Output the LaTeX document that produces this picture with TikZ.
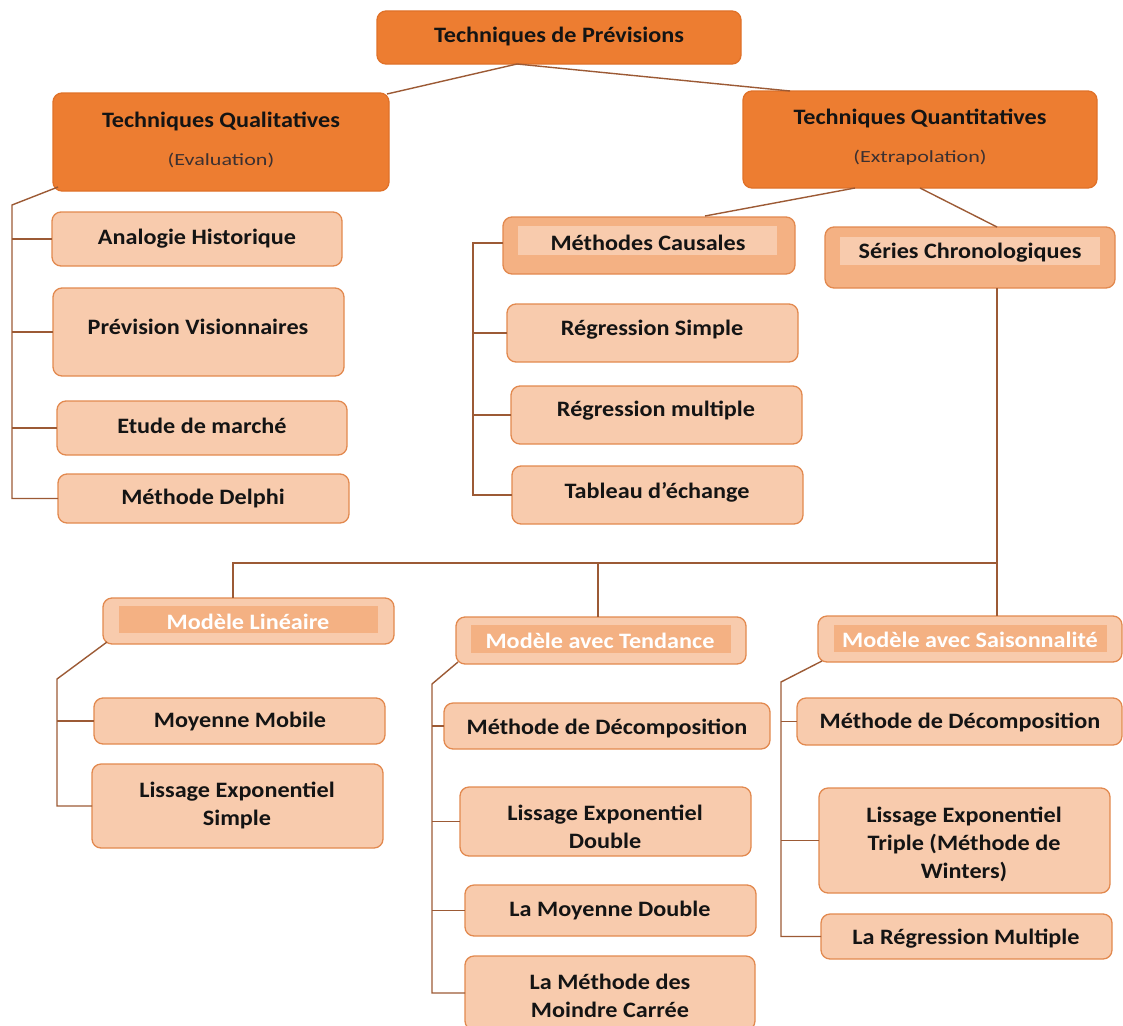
\documentclass[tikz,border=0pt]{standalone}
\usepackage{fontspec}
\setmainfont{Carlito}[FakeStretch=1.1]
\newfontfamily\notefont{Carlito}[FakeStretch=1.3]
\usetikzlibrary{calc}

\definecolor{deep}{HTML}{ED7D31}
\definecolor{deepedge}{HTML}{E07128}
\definecolor{midtone}{HTML}{F4B183}
\definecolor{pale}{HTML}{F8CBAD}
\definecolor{edge}{HTML}{E2894F}
\definecolor{wire}{HTML}{9C5A35}
\definecolor{ink}{HTML}{141414}
\definecolor{noteink}{HTML}{3C3030}

% rounded panel given by its corners (x1,y1) (x2,y2) in pixel units
\newcommand\panel[6]{%
  \node[#2, minimum width={(#5-#3)*1pt}, minimum height={(#6-#4)*1pt}]
    (#1) at ({(#3+#5)/2},{(#4+#6)/2}) {};}

\begin{document}
\begin{tikzpicture}[x=1pt, y=-1pt,
  card/.style={draw=edge, fill=pale, rounded corners=9pt, line width=1.3pt,
               inner sep=0pt, outer sep=0pt},
  topcard/.style={card, fill=deep, draw=deepedge},
  midcard/.style={card, fill=midtone, draw=edge},
  hdrcard/.style={card, fill=pale, draw=edge},
  band/.style={draw=none, rounded corners=0pt, inner sep=0pt, outer sep=0pt},
  txt/.style={font=\bfseries\fontsize{22}{28}\selectfont, text=ink, align=center,
              inner sep=0pt, yshift=-2pt},
  wtxt/.style={txt, text=white},
  note/.style={font=\notefont\fontsize{17}{20}\selectfont, text=noteink, inner sep=0pt,
               yshift=-1pt},
  conn/.style={draw=wire, line width=1.4pt}]

\useasboundingbox (0,0) rectangle (1123,1025);

% ---- level 0 and 1
\panel{root}{topcard}{377}{11}{741}{64}
\node[txt] (root-t) at (559,35) {Techniques de Prévisions};

\panel{qual}{topcard}{53}{93}{389}{191}
\node[txt] (qual-t) at (221,119) {Techniques Qualitatives};
\node[note] (qual-n) at (221,159) {(Evaluation)};

\panel{quant}{topcard}{743}{91}{1097}{188}
\node[txt] (quant-t) at (920,116) {Techniques Quantitatives};
\node[note] (quant-n) at (920,157) {(Extrapolation)};

% ---- qualitative methods
\panel{ana}{card}{52}{212}{342}{266}
\node[txt] (ana-t) at (197,237) {Analogie Historique};
\panel{vis}{card}{53}{288}{344}{376}
\node[txt] (vis-t) at (198,325) {Prévision Visionnaires};
\panel{etu}{card}{57}{401}{347}{455}
\node[txt] (etu-t) at (202,424) {Etude de marché};
\panel{del}{card}{58}{474}{349}{523}
\node[txt] (del-t) at (203,497) {Méthode Delphi};

% ---- causal methods
\panel{caus}{midcard}{503}{217}{795}{274}
\node[band, fill=pale, minimum width=259pt, minimum height=29pt] (caus-b) at (647.5,240.5) {};
\node[txt] (caus-t) at (648,241) {Méthodes Causales};
\panel{rs}{card}{507}{304}{798}{362}
\node[txt] (rs-t) at (652,328) {Régression Simple};
\panel{rm}{card}{511}{386}{802}{444}
\node[txt] (rm-t) at (656,409) {Régression multiple};
\panel{tab}{card}{512}{466}{803}{524}
\node[txt] (tab-t) at (657,490) {Tableau d’échange};

% ---- time series
\panel{ser}{midcard}{825}{227}{1115}{288}
\node[band, fill=pale, minimum width=260pt, minimum height=28pt] (ser-b) at (970,251) {};
\node[txt] (ser-t) at (970,251) {Séries Chronologiques};

% ---- model headers
\panel{lin}{hdrcard}{103}{598}{394}{644}
\node[band, fill=midtone, minimum width=259pt, minimum height=27pt] (lin-b) at (248.5,619.5) {};
\node[wtxt] (lin-t) at (248,620) {Modèle Linéaire};

\panel{ten}{hdrcard}{456}{617}{746}{664}
\node[band, fill=midtone, minimum width=260pt, minimum height=28pt] (ten-b) at (601,639) {};
\node[wtxt] (ten-t) at (600,639) {Modèle avec Tendance};

\panel{sai}{hdrcard}{818}{616}{1122}{662}
\node[band, fill=midtone, minimum width=273pt, minimum height=27pt] (sai-b) at (970.5,638.5) {};
\node[wtxt] (sai-t) at (970,638) {Modèle avec Saisonnalité};

% ---- linear model methods
\panel{mm}{card}{94}{698}{385}{744}
\node[txt] (mm-t) at (240,720) {Moyenne Mobile};
\panel{les}{card}{92}{764}{383}{848}
\node[txt] (les-t) at (237,803) {Lissage Exponentiel\\Simple};

% ---- trend model methods
\panel{dect}{card}{444}{703}{770}{749}
\node[txt] (dect-t) at (607,726) {Méthode de Décomposition};
\panel{led}{card}{460}{787}{751}{856}
\node[txt] (led-t) at (605,825) {Lissage Exponentiel\\Double};
\panel{mdb}{card}{465}{885}{756}{936}
\node[txt] (mdb-t) at (610,908) {La Moyenne Double};
\panel{mc}{card}{465}{956}{755}{1030}
\node[txt] (mc-t) at (610,994) {La Méthode des\\Moindre Carrée};

% ---- seasonal model methods
\panel{decs}{card}{797}{698}{1122}{745}
\node[txt] (decs-t) at (960,720) {Méthode de Décomposition};
\panel{let}{card}{819}{788}{1110}{893}
\node[txt] (let-t) at (964,842) {Lissage Exponentiel\\Triple (Méthode de\\Winters)};
\panel{rgm}{card}{821}{914}{1112}{959}
\node[txt] (rgm-t) at (966,937) {La Régression Multiple};

% ---- connectors
\coordinate (rootfoot) at (517,64);
\draw[conn] (rootfoot) -- ($(qual.north east)+(-2,1)$);
\draw[conn] (rootfoot) -- ($(quant.north west)+(47,0)$);

% qualitative branch
\coordinate (qstem) at (12,205);
\draw[conn] ($(qual.south west)+(5,-4)$) -- (qstem) -- (qstem |- del.west) -- (del.west);
\draw[conn] (qstem |- ana.west) -- (ana.west);
\draw[conn] (qstem |- vis.west) -- (vis.west);
\draw[conn] (qstem |- etu.west) -- (etu.west);

% quantitative branch
\draw[conn] ($(quant.south west)+(112,0)$) -- ($(caus.north west)+(202,-1)$);
\draw[conn] ($(quant.south west)+(177,0)$) -- ($(ser.north west)+(172,0)$);

% causal branch
\coordinate (cstem) at (473,243);
\draw[conn] (caus.west |- cstem) -- (cstem) -- (cstem |- tab.west) -- (tab.west);
\draw[conn] (cstem |- rs.west) -- (rs.west);
\draw[conn] (cstem |- rm.west) -- (rm.west);

% time-series bus
\coordinate (serfoot) at (997,288);
\coordinate (busR) at (997,563);
\coordinate (busL) at (233,563);
\coordinate (busM) at (598,563);
\draw[conn] (serfoot) -- (busR) -- (sai.north -| busR);
\draw[conn] (busR) -- (busL) -- (lin.north -| busL);
\draw[conn] (busM) -- (ten.north -| busM);

% linear model branch
\coordinate (lstem) at (57,679);
\draw[conn] ($(lin.south west)+(4,-2)$) -- (lstem) -- (lstem |- les.west) -- (les.west);
\draw[conn] (lstem |- mm.west) -- (mm.west);

% trend model branch
\coordinate (tstem) at (432,684);
\draw[conn] ($(ten.south west)+(2,-2)$) -- (tstem) -- (tstem |- mc.west) -- (mc.west);
\draw[conn] (tstem |- dect.west) -- (dect.west);
\draw[conn] (tstem |- led.west) -- (led.west);
\draw[conn] (tstem |- mdb.west) -- (mdb.west);

% seasonal model branch
\coordinate (sstem) at (781,682);
\draw[conn] ($(sai.south west)+(4,-1)$) -- (sstem) -- (sstem |- rgm.west) -- (rgm.west);
\draw[conn] (sstem |- decs.west) -- (decs.west);
\draw[conn] (sstem |- let.west) -- (let.west);

\end{tikzpicture}
\end{document}
